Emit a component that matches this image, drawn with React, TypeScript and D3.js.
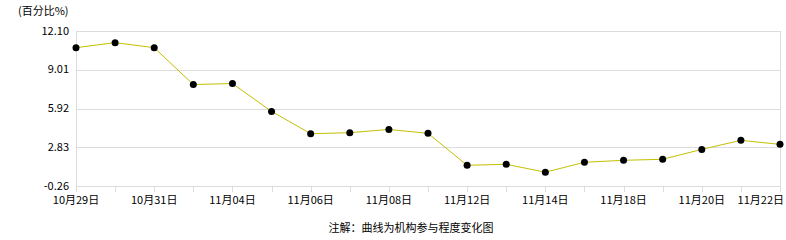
import React from "react";
import * as d3 from "d3";

const dates = ["10月29日","10月30日","10月31日","11月01日","11月04日","11月05日","11月06日","11月07日","11月08日","11月11日","11月12日","11月13日","11月14日","11月15日","11月18日","11月19日","11月20日","11月21日","11月22日"];
const values = [10.77,11.17,10.77,7.83,7.91,5.69,3.91,3.99,4.25,3.94,1.39,1.47,0.84,1.63,1.79,1.87,2.66,3.38,3.06];
const yTicks = [-0.26, 2.83, 5.92, 9.01, 12.10];
const yLabels = ["-0.26", "2.83", "5.92", "9.01", "12.10"];
const unitLabel = "(百分比%)";
const note = "注解：曲线为机构参与程度变化图";

export default function App() {
  const W = 786, H = 240;
  const left = 76, right = 780, top = 31, bottom = 186;
  const x = d3.scalePoint<string>().domain(dates).range([left, right]);
  const y = d3.scaleLinear().domain([-0.26, 12.10]).range([bottom, top]);
  const line = d3.line<number>().x((_, i) => x(dates[i])!).y(d => y(d));
  const font = "'Noto Sans CJK SC', 'DejaVu Sans', sans-serif";
  const last = dates.length - 1;
  return (
    <svg width={W} height={H} style={{ position: "absolute", left: 0, top: 0, background: "#fff" }} fontFamily={font}>
      {yTicks.map((t, i) => (
        <g key={i}>
          <line x1={left} x2={right} y1={Math.round(y(t)) + 0.5} y2={Math.round(y(t)) + 0.5} stroke="#dcdcdc" />
          <text x={69} y={y(t) + 3.5} textAnchor="end" fontSize={11} fill="#000">{yLabels[i]}</text>
        </g>
      ))}
      <line x1={left + 0.5} x2={left + 0.5} y1={top} y2={bottom + 6} stroke="#dcdcdc" />
      <line x1={right + 0.5} x2={right + 0.5} y1={top} y2={bottom + 6} stroke="#dcdcdc" />
      {dates.map((d, i) => (
        <g key={d}>
          <line x1={Math.round(x(d)!) + 0.5} x2={Math.round(x(d)!) + 0.5} y1={bottom} y2={bottom + 6} stroke="#dcdcdc" />
          {i % 2 === 0 && (
            <text x={i === last ? W - 2 : x(d)!} y={bottom + 18} textAnchor={i === last ? "end" : "middle"} fontSize={11} fill="#000">{d}</text>
          )}
        </g>
      ))}
      <path d={line(values)!} fill="none" stroke="#c4c000" strokeWidth={1} />
      {values.map((v, i) => (
        <circle key={i} cx={x(dates[i])!} cy={y(v)} r={3.5} fill="#000" />
      ))}
      <text x={18} y={15} fontSize={11} fill="#000">{unitLabel}</text>
      <text x={411} y={232} textAnchor="middle" fontSize={11} fill="#000">{note}</text>
    </svg>
  );
}
